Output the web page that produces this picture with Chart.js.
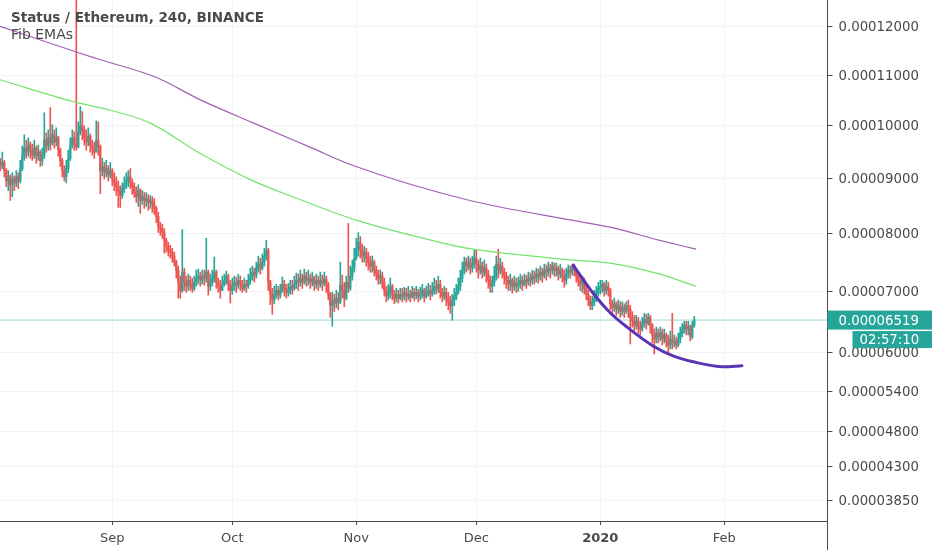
<!DOCTYPE html>
<html><head><meta charset="utf-8">
<script src="https://cdn.jsdelivr.net/npm/chart.js@4.4.1/dist/chart.umd.min.js"></script>
<style>html,body{margin:0;padding:0;background:#fff;overflow:hidden}#wrap{width:932px;height:550px}</style>
</head><body><div id="wrap"><canvas id="c" width="932" height="550"></canvas></div>
<script>
// ---- data (prices in units of 1e-8 ETH) ----
const startDay = 3;      // days after 1 Aug 2019 of the first 12h candle
const stepDays = 0.5;    // 12h candles
const openFirst = 9290;
const closes = [
9238,9297,9141,8951,9025,8879,8987,8915,9025,8951,9180,9413,9568,9490,9626,9529,9432,9568,9413,9490,9335,9432,9723,9607,9762,9665,9820,9684,9762,9529,
9335,9141,9025,9180,9374,9626,9762,9645,9590,9878,9994,9917,9762,9684,9800,9626,9568,9490,9723,9607,9141,9219,9103,9180,9064,9141,8987,8915,8843,8771,
8681,8807,8879,8951,9025,8915,8843,8735,8662,8771,8590,8662,8590,8626,8554,8590,8518,8446,8301,8121,8085,8013,7874,7771,7702,7667,7598,7495,7357,7150,
7012,7322,7150,7081,7184,7115,7046,7150,7219,7253,7184,7253,7219,7322,7081,7150,7219,7322,7150,7081,7012,7115,7184,7253,7115,7012,7081,7150,7098,7184,
7115,7046,7115,7081,7184,7253,7322,7271,7391,7460,7391,7495,7598,7702,7150,6947,6851,6947,7012,6931,7012,7115,7046,6979,7012,7081,7046,7115,7184,7150,
7219,7150,7253,7184,7219,7150,7219,7115,7184,7115,7184,7133,7202,7115,6947,6756,6851,6788,6883,6820,7098,7012,6883,7150,7046,7253,7391,7564,7736,7840,
7702,7598,7667,7564,7495,7426,7495,7357,7288,7219,7253,7150,7012,6915,6979,7081,6947,6883,6947,6883,6947,6915,6979,6915,6947,6899,6979,6931,6979,6915,
6947,7012,6915,6979,7012,6947,7012,7081,7046,7115,6979,6915,6979,6883,6820,6756,6851,6915,6979,7081,7219,7357,7495,7426,7495,7391,7460,7564,7460,7357,
7426,7322,7391,7288,7184,7081,7150,7253,7460,7357,7426,7322,7253,7184,7115,7184,7081,7150,7081,7115,7184,7115,7184,7150,7219,7184,7253,7219,7288,7253,
7322,7271,7357,7322,7391,7357,7426,7357,7391,7288,7357,7253,7184,7288,7357,7322,7426,7357,7253,7184,7115,7184,7046,6947,6851,6756,6820,6883,6979,7046,
7081,7115,7012,7081,7012,6788,6724,6788,6692,6756,6660,6724,6660,6756,6692,6564,6500,6436,6500,6404,6372,6468,6532,6468,6564,6436,6277,6213,6308,6245,
6308,6213,6277,6181,6117,6213,6149,6181,6117,6213,6308,6372,6436,6372,6404,6245,6436,6519
];
const highs = [
9374,9490,9335,9180,9141,9064,9103,9045,9141,9103,9335,9607,9820,9723,9762,9684,9645,9723,9607,9626,9529,9568,10252,9859,9917,10351,10014,9917,9955,9800,
9568,9374,9238,9335,9529,9762,9917,9878,13500,10073,10371,10272,9994,9917,9955,9840,9723,9684,10093,10073,9626,9374,9297,9335,9238,9297,9180,9103,9025,8951,
8861,8915,9025,9103,9141,9180,8987,8915,8843,8879,8807,8771,8735,8735,8699,8681,8662,8626,8482,8374,8193,8157,8085,7909,7840,7788,7736,7667,7529,7426,
7253,8067,7391,7253,7288,7253,7219,7253,7357,7374,7322,7357,7357,7909,7357,7288,7357,7581,7357,7219,7184,7253,7288,7340,7288,7184,7219,7253,7236,7288,
7253,7184,7219,7184,7288,7391,7426,7391,7495,7598,7564,7633,7736,7874,7736,7184,7046,7081,7115,7081,7115,7236,7184,7115,7133,7184,7184,7253,7305,7288,
7357,7288,7374,7322,7357,7288,7322,7253,7288,7253,7322,7271,7322,7253,7150,6979,6979,6947,7012,6979,7495,7271,7150,7253,8175,7426,7529,7736,7909,8013,
7943,7805,7771,7736,7667,7598,7598,7529,7426,7357,7357,7322,7219,7081,7115,7219,7115,7012,7046,7012,7046,7046,7064,7046,7081,7012,7081,7046,7081,7029,
7064,7115,7046,7081,7133,7098,7150,7219,7184,7253,7184,7046,7081,7046,6979,6915,6947,7046,7115,7219,7357,7495,7581,7564,7598,7564,7598,7702,7702,7529,
7564,7495,7529,7460,7357,7253,7253,7426,7598,7719,7564,7495,7391,7322,7253,7288,7219,7253,7219,7236,7288,7253,7288,7271,7322,7305,7357,7340,7391,7374,
7426,7391,7460,7443,7495,7460,7495,7478,7478,7426,7460,7391,7357,7391,7443,7426,7443,7460,7391,7322,7253,7253,7219,7115,7012,6915,6915,7012,7081,7150,
7184,7184,7150,7184,7150,7046,6851,6883,6820,6851,6820,6820,6788,6820,6851,6756,6660,6596,6596,6564,6500,6564,6628,6612,6628,6596,6468,6372,6404,6372,
6404,6372,6372,6308,6277,6340,6628,6277,6245,6308,6404,6468,6500,6500,6500,6436,6500,6580
];
const lows = [
9141,9180,9025,8843,8771,8590,8662,8771,8843,8807,8915,9141,9335,9374,9413,9374,9335,9374,9277,9335,9219,9238,9374,9490,9529,9529,9626,9568,9607,9413,
9219,9025,8951,8915,9103,9335,9568,9529,9529,9570,9820,9723,9626,9529,9607,9490,9432,9374,9490,9432,8717,9045,8987,9025,8951,9006,8861,8771,8681,8464,
8464,8626,8735,8807,8843,8807,8699,8644,8554,8482,8356,8518,8446,8482,8410,8446,8374,8338,8193,8013,7960,7909,7650,7667,7598,7564,7495,7426,7219,6883,
6883,6979,7012,6979,7012,7012,6979,7012,7081,7115,7081,7115,7098,7150,6931,7012,7081,7150,7046,6979,6883,7012,7081,7115,7012,6804,6947,7012,6979,7046,
7012,6979,7012,6979,7046,7115,7184,7150,7219,7322,7288,7357,7426,7529,7012,6772,6612,6788,6883,6851,6883,6979,6915,6883,6915,6947,6947,7012,7046,7012,
7081,7046,7115,7081,7098,7046,7081,7012,7046,7012,7064,7012,7081,6979,6851,6564,6420,6660,6724,6692,6788,6883,6740,6851,6979,7012,7184,7322,7529,7598,
7564,7495,7495,7426,7357,7322,7322,7253,7184,7115,7115,7046,6915,6820,6851,6883,6851,6788,6820,6804,6851,6820,6851,6820,6851,6820,6883,6835,6867,6820,
6851,6883,6820,6883,6915,6851,6915,6947,6947,6979,6883,6820,6851,6756,6692,6628,6516,6756,6851,6947,7012,7150,7288,7322,7357,7288,7322,7391,7322,7219,
7288,7219,7253,7150,7046,6979,6979,7081,7184,7219,7288,7219,7115,7046,7012,7012,6963,7012,6979,6995,7046,7012,7081,7046,7098,7081,7115,7115,7150,7133,
7184,7150,7219,7184,7253,7219,7288,7253,7253,7184,7219,7150,7064,7115,7219,7219,7271,7253,7150,7081,7012,6979,6947,6851,6756,6692,6692,6756,6820,6915,
6947,6979,6915,6947,6915,6692,6628,6660,6596,6628,6564,6596,6564,6628,6564,6133,6404,6340,6372,6308,6277,6340,6404,6372,6436,6308,6149,5974,6149,6149,
6181,6117,6149,6085,5974,6053,6053,6085,6053,6085,6149,6245,6308,6277,6277,6181,6213,6404
];
const emaSlowDays = [2.93,22.2,27.9,42.2,52.9,66.2,80.4,91.2,120.4,146.2,155.4,167.9,176.9];
const emaSlow     = [12000,11464,11315,10946,10510,10054,9587,9238,8590,8229,8108,7874,7719];
const emaFastDays = [2.93,22.2,27.9,40.4,52.9,66.2,77.9,92.2,112.9,120.4,146.2,155.4,167.9,176.9];
const emaFast     = [10907,10450,10351,10054,9471,8951,8608,8229,7840,7728,7529,7478,7288,7081];
const arcDays   = [146.2,151.2,155.4,159.7,166.2,171.2,176.2,183.7,188.4];
const arcPrices = [7443,6963,6644,6404,6101,5943,5851,5774,5789];
const monthDays   = [31,61,92,122,153,184];
const monthLabels = ['Sep','Oct','Nov','Dec','2020','Feb'];
const priceTicks  = [3850,4300,4800,5400,6000,7000,8000,9000,10000,11000,12000];
const lastPrice = 6519;
const countdown = '02:57:10';
const titleText = 'Status / Ethereum, 240, BINANCE';
const studyText = 'Fib EMAs';

// ---- power (0.6) price scale ----
const LinearBase = Chart.LinearScale || Chart.registry.getScale('linear');
const PW = 0.6;
class PowerScale extends LinearBase {
  _pw(v){ return Math.pow(Math.max(v, 1e-9), PW); }
  getPixelForValue(value){
    const a = this._pw(this.min), b = this._pw(this.max);
    return this.getPixelForDecimal((this._pw(value) - a) / (b - a));
  }
  getValueForPixel(pixel){
    const a = this._pw(this.min), b = this._pw(this.max);
    const d = this.getDecimalForPixel(pixel);
    return Math.pow(a + d * (b - a), 1 / PW);
  }
}
PowerScale.id = 'power';
PowerScale.defaults = LinearBase.defaults;
Chart.register(PowerScale);

const UP = '#26a69a', DOWN = '#ef5350', TXT = '#4a4a4a', GRID = '#f0f3f8';
const days = closes.map((_, i) => startDay + i * stepDays);
const opens = closes.map((c, i) => i ? closes[i - 1] : openFirst);
const colors = closes.map((c, i) => c >= opens[i] ? UP : DOWN);
const wickData = days.map((d, i) => ({x: d, y: [Math.min(lows[i], opens[i], closes[i]), Math.max(highs[i], opens[i], closes[i])]}));
const bodyData = days.map((d, i) => ({x: d, y: [opens[i], closes[i]]}));
const xy = (xs, ys) => xs.map((d, i) => ({x: d, y: ys[i]}));
const FONT = 'DejaVu Sans';

const overlay = {
  id: 'overlay',
  afterDraw(chart){
    const c = chart.ctx, ys = chart.scales.y, area = chart.chartArea;
    c.save();
    c.strokeStyle = TXT; c.lineWidth = 1;
    const ax = Math.round(area.right) - 0.5;
    c.beginPath(); c.moveTo(ax, area.bottom); c.lineTo(ax, chart.height); c.stroke();
    c.fillStyle = TXT; c.textBaseline = 'alphabetic'; c.textAlign = 'left';
    c.font = 'bold 13.5px "' + FONT + '"';
    c.fillText(titleText, 11, 22);
    c.font = '14px "' + FONT + '"';
    c.fillText(studyText, 11, 39);
    const py = ys.getPixelForValue(lastPrice);
    const bx = area.right;
    c.fillStyle = UP;
    c.fillRect(bx, py - 9.5, chart.width - bx, 19);
    c.fillRect(bx + 25, py + 11, chart.width - bx - 25, 17);
    c.fillStyle = '#ffffff'; c.textBaseline = 'middle';
    c.font = '13.3px "' + FONT + '"';
    c.fillText((lastPrice * 1e-8).toFixed(8), bx + 11, py + 1);
    c.fillText(countdown, bx + 32, py + 20);
    c.restore();
  }
};

new Chart(document.getElementById('c'), {
  type: 'bar',
  data: { datasets: [
    {type: 'line', data: [{x: 2.9, y: lastPrice}, {x: 209.9, y: lastPrice}], borderColor: 'rgba(38,166,154,0.45)', borderWidth: 1, pointRadius: 0, order: 5},
    {type: 'bar', data: wickData, backgroundColor: colors, barThickness: 1, grouped: false, order: 4},
    {type: 'bar', data: bodyData, backgroundColor: colors, barThickness: 1.6, grouped: false, minBarLength: 1, order: 3},
    {type: 'line', data: xy(emaSlowDays, emaSlow), borderColor: '#a260b2', borderWidth: 1.2, pointRadius: 0, cubicInterpolationMode: 'monotone', order: 2},
    {type: 'line', data: xy(emaFastDays, emaFast), borderColor: '#74e46c', borderWidth: 1.2, pointRadius: 0, cubicInterpolationMode: 'monotone', order: 2},
    {type: 'line', data: xy(arcDays, arcPrices), borderColor: '#5a34b4', borderWidth: 3, pointRadius: 0, cubicInterpolationMode: 'monotone', borderCapStyle: 'round', order: 1}
  ]},
  options: {
    responsive: false, animation: false, devicePixelRatio: 1,
    layout: {padding: 0},
    plugins: {legend: {display: false}, tooltip: {enabled: false}},
    scales: {
      x: {
        type: 'linear', min: 2.925, max: 209.8, offset: false,
        grid: {color: GRID, tickColor: TXT, tickLength: 4, offset: false},
        border: {display: true, color: TXT, width: 1},
        ticks: {
          autoSkip: false, maxRotation: 0, minRotation: 0, color: TXT, padding: 6,
          font: (ctx) => ({family: FONT, size: 13, weight: (ctx.tick && ctx.tick.value === 153) ? 'bold' : 'normal'}),
          callback: (v) => monthLabels[monthDays.indexOf(v)]
        },
        afterBuildTicks: (s) => { s.ticks = monthDays.map(v => ({value: v})); },
        afterFit: (s) => { s.height = 29; s.paddingLeft = 0; s.paddingRight = 0; }
      },
      y: {
        type: 'power', position: 'right', min: 3577, max: 12555,
        grid: {color: GRID, tickColor: TXT, tickLength: 5},
        border: {display: true, color: TXT, width: 1},
        ticks: {color: TXT, padding: 6, labelOffset: 1, font: {family: FONT, size: 13.3}, callback: (v) => (v * 1e-8).toFixed(8)},
        afterBuildTicks: (s) => { s.ticks = priceTicks.map(v => ({value: v})); },
        afterFit: (s) => { s.width = 104.5; s.paddingTop = 0; s.paddingBottom = 0; }
      }
    }
  },
  plugins: [overlay]
});
</script>
</body></html>
